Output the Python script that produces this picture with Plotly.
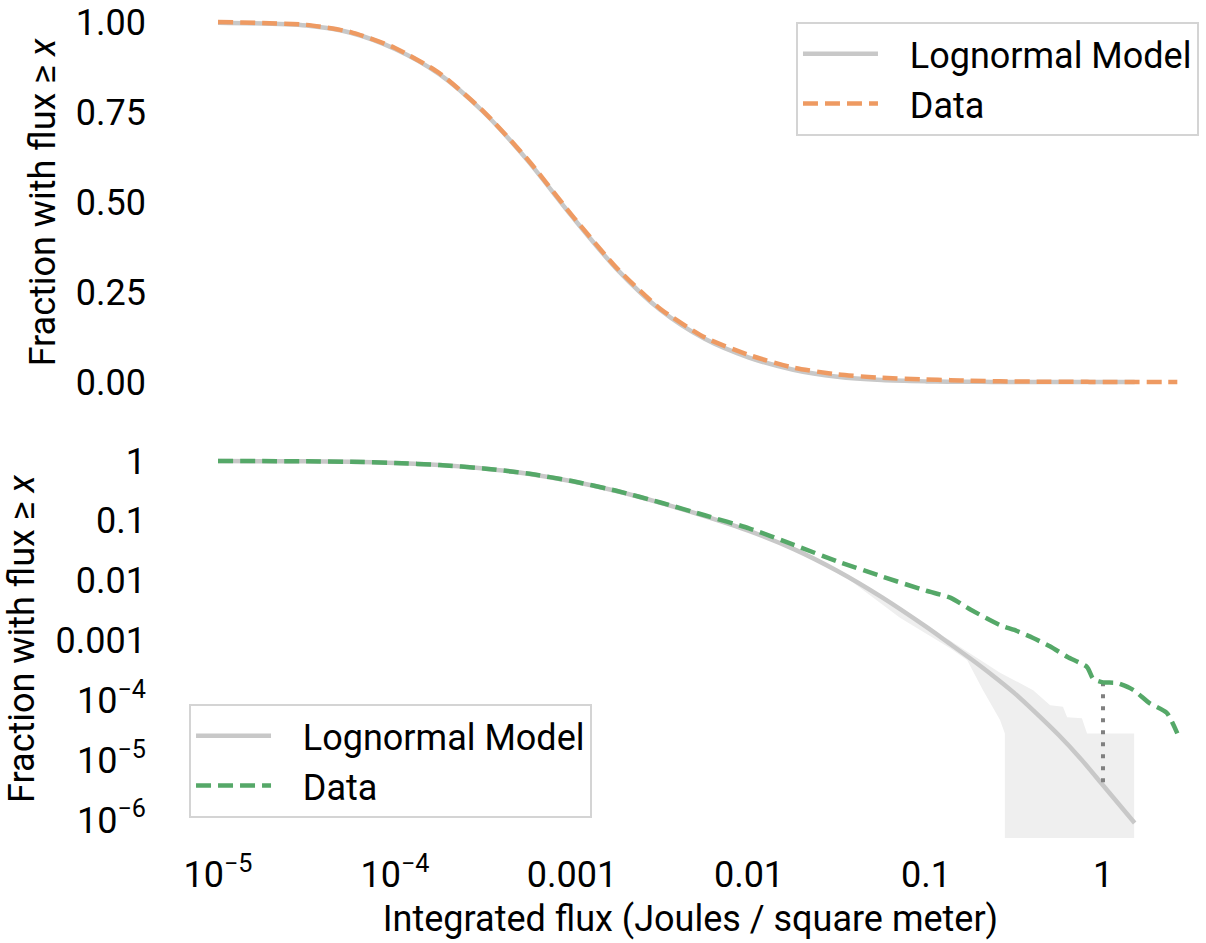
import plotly.graph_objects as go

# ---------------- data ----------------
model_flux = [1e-5, 3.16e-5, 5.62e-5, 1e-4, 1.78e-4, 3.16e-4, 5.62e-4, 1e-3, 1.78e-3,
              3.16e-3, 5.62e-3, 1e-2, 1.78e-2, 3.16e-2, 5.62e-2, 0.1, 0.133, 0.178,
              0.237, 0.316, 0.422, 0.562, 0.750, 1.0, 1.51]
model_frac = [0.998, 0.99, 0.97, 0.925, 0.855, 0.75, 0.615, 0.46, 0.315,
              0.2, 0.12, 0.068, 0.034, 0.0145, 0.0053, 0.0017, 9.3e-4, 5.0e-4,
              2.63e-4, 1.32e-4, 6.0e-5, 2.63e-5, 1.05e-5, 3.8e-6, 8.9e-7]

data_flux = [1e-5, 3.16e-5, 5.62e-5, 1e-4, 1.78e-4, 3.16e-4, 5.62e-4, 1e-3, 1.78e-3,
             3.16e-3, 5.62e-3, 1e-2, 1.78e-2, 3.16e-2, 5.62e-2, 0.1, 0.137, 0.178,
             0.263, 0.316, 0.403, 0.501, 0.631, 0.813, 0.879, 1.0, 1.2, 1.48,
             1.84, 2.29, 2.63]
data_frac = [1.0, 0.992, 0.972, 0.928, 0.858, 0.752, 0.618, 0.463, 0.318,
             0.203, 0.124, 0.075, 0.040, 0.021, 0.0118, 0.0068, 0.0052, 0.0033,
             0.0018, 0.0015, 0.0011, 8.0e-4, 5.3e-4, 3.6e-4, 2.3e-4, 2.0e-4, 1.95e-4, 1.5e-4,
             8.9e-5, 6.2e-5, 2.8e-5]

# uncertainty band around the model (bottom panel)
band_upper_flux = [0.0372, 0.0713, 0.137, 0.262, 0.403, 0.503, 0.594, 0.627, 0.76, 0.813, 1.5]
band_upper_frac = [0.012, 0.0035, 0.00102, 2.9e-4, 1.48e-4, 8.3e-5, 7.8e-5, 5.2e-5, 5.0e-5, 2.8e-5, 2.8e-5]
band_lower_flux = [1.5, 0.279, 0.279, 0.262, 0.21, 0.171, 0.137, 0.0713, 0.0372]
band_lower_frac = [1e-8, 1e-8, 2.8e-5, 4.7e-5, 1.48e-4, 4.7e-4, 7.4e-4, 0.0024, 0.0102]

# gap marker at flux = 1
gap_flux = [1.0, 1.0]
gap_frac = [2.0e-4, 3.9e-6]

x_tickvals = [1e-5, 1e-4, 1e-3, 1e-2, 1e-1, 1]
x_ticktext = ["10<sup>−5</sup>", "10<sup>−4</sup>", "0.001", "0.01", "0.1", "1"]
top_tickvals = [0, 0.25, 0.5, 0.75, 1.0]
top_ticktext = ["0.00", "0.25", "0.50", "0.75", "1.00"]
bot_tickvals = [1, 0.1, 0.01, 0.001, 1e-4, 1e-5, 1e-6]
bot_ticktext = ["1", "0.1", "0.01", "0.001", "10<sup>−4</sup>", "10<sup>−5</sup>", "10<sup>−6</sup>"]

# ---------------- styling ----------------
GRAY = "#c8c8c8"
ORANGE = "#ee9a62"
GREEN = "#55a868"
BAND = "#efefef"
FONT = "Roboto"
FS = 36
DASH = "15px,7px"
PAD = "\u00a0\u00a0\u00a0"

fig = go.Figure()

# top panel
fig.add_trace(go.Scatter(x=model_flux, y=model_frac, mode="lines", name=PAD + "Lognormal Model",
                         line=dict(color=GRAY, width=4.5, shape="spline", smoothing=0.8),
                         xaxis="x", yaxis="y", legend="legend"))
fig.add_trace(go.Scatter(x=data_flux, y=data_frac, mode="lines", name=PAD + "Data",
                         line=dict(color=ORANGE, width=4.5, dash=DASH, shape="spline", smoothing=0.6),
                         xaxis="x", yaxis="y", legend="legend"))

# bottom panel
fig.add_trace(go.Scatter(x=band_upper_flux + band_lower_flux,
                         y=band_upper_frac + band_lower_frac,
                         mode="lines", fill="toself", fillcolor=BAND,
                         line=dict(width=0, color=BAND), showlegend=False,
                         hoverinfo="skip", xaxis="x2", yaxis="y2"))
fig.add_trace(go.Scatter(x=model_flux, y=model_frac, mode="lines", name=PAD + "Lognormal Model",
                         line=dict(color=GRAY, width=4.5, shape="spline", smoothing=0.8),
                         xaxis="x2", yaxis="y2", legend="legend2"))
fig.add_trace(go.Scatter(x=gap_flux, y=gap_frac, mode="lines", showlegend=False,
                         line=dict(color="#808080", width=4, dash="4px,8px"),
                         xaxis="x2", yaxis="y2"))
fig.add_trace(go.Scatter(x=data_flux, y=data_frac, mode="lines", name=PAD + "Data",
                         line=dict(color=GREEN, width=4.5, dash=DASH, shape="spline", smoothing=0.6),
                         xaxis="x2", yaxis="y2", legend="legend2"))

# plot area: x 175..1206 px, y 0..838 px
XR = [-5.243, 0.582]
axis_common = dict(showgrid=False, zeroline=False, showline=False, ticks="",
                   tickfont=dict(family=FONT, size=FS, color="black"))

legend_common = dict(font=dict(family=FONT, size=FS, color="black"),
                     bgcolor="white", bordercolor="#d4d4d4", borderwidth=2,
                     itemwidth=75, tracegroupgap=0)

fig.update_layout(
    width=1206, height=943,
    margin=dict(l=175, r=0, t=0, b=105),
    paper_bgcolor="white", plot_bgcolor="white",
    font=dict(family=FONT, size=FS, color="black"),
    xaxis=dict(type="log", range=XR, domain=[0, 1], anchor="y", matches="x2",
               showticklabels=False, **axis_common),
    yaxis=dict(range=[-0.0639, 1.0611], domain=[0.5167, 1.0], anchor="x",
               tickvals=top_tickvals, ticktext=top_ticktext, ticklabelstandoff=28,
               title=dict(text="Fraction with flux ≥ <i>x</i>", standoff=9,
                          font=dict(family=FONT, size=FS, color="black")),
               **axis_common),
    xaxis2=dict(type="log", range=XR, domain=[0, 1], anchor="y2",
                tickvals=x_tickvals, ticktext=x_ticktext, ticklabelstandoff=12,
                title=dict(text="Integrated flux (Joules / square meter)", standoff=10,
                           font=dict(family=FONT, size=FS, color="black")),
                **axis_common),
    yaxis2=dict(type="log", range=[-6.301, 0.351], domain=[0.0, 0.4749], anchor="x2",
                tickvals=bot_tickvals, ticktext=bot_ticktext, ticklabelstandoff=28,
                title=dict(text="Fraction with flux ≥ <i>x</i>", standoff=9,
                           font=dict(family=FONT, size=FS, color="black")),
                **axis_common),
    legend=dict(x=0.6023, xanchor="left", y=0.974, yanchor="top", **legend_common),
    legend2=dict(x=0.0136, xanchor="left", y=0.16, yanchor="top", **legend_common),
)

fig.write_html("out.html")
